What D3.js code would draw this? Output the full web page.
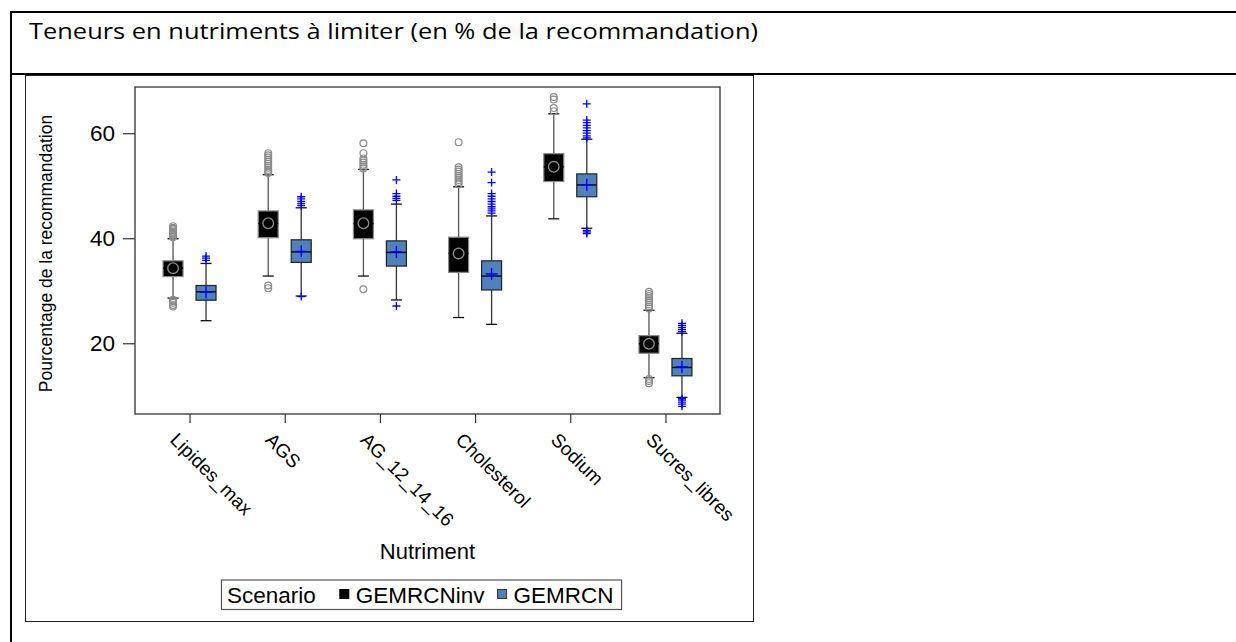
<!DOCTYPE html>
<html>
<head>
<meta charset="utf-8">
<script src="https://cdn.jsdelivr.net/npm/d3@7"></script>
<style>
  html, body { margin: 0; padding: 0; background: #fff; }
  svg { display: block; }
</style>
</head>
<body>
<svg id="chart" width="1236" height="642"></svg>
<script>
// ---------------- DATA ----------------
const title = "Teneurs en nutriments à limiter (en % de la recommandation)";
const categories = ["Lipides_max", "AGS", "AG_12_14_16", "Cholesterol", "Sodium", "Sucres_libres"];
const scenarios = ["GEMRCNinv", "GEMRCN"];
const yTicks = [20, 40, 60];
const xLabel = "Nutriment";
const yLabel = "Pourcentage de la recommandation";
const legendTitle = "Scenario";

// GEMRCNinv
const invQ1      = [32.7, 40.1, 39.9, 33.5, 50.8, 18.1];
const invMedian  = [34.3, 42.8, 42.8, 37.1, 53.6, 19.9];
const invQ3      = [35.7, 45.2, 45.4, 40.2, 56.1, 21.45];
const invLow     = [28.6, 32.8, 32.8, 24.9, 43.7, 13.45];
const invHigh    = [39.9, 52.1, 53.1, 49.8, 63.7, 26.3];
const invMean    = [34.3, 42.85, 42.85, 37.1, 53.6, 19.9];
const invOutliers = [
  [42.3, 42.0, 41.8, 41.5, 41.2, 41.0, 40.8, 40.6, 40.4, 40.2, 28.3, 28.0, 27.7, 27.3, 27.0],
  [56.2, 55.8, 55.4, 55.0, 54.6, 54.2, 53.8, 53.4, 53.0, 52.7, 52.4, 31.0, 30.5],
  [58.1, 56.2, 55.2, 54.8, 54.4, 54.0, 53.6, 53.3, 30.3],
  [58.3, 53.5, 53.1, 52.7, 52.3, 51.9, 51.5, 51.1, 50.7, 50.3],
  [66.9, 66.4, 64.8, 64.2],
  [29.8, 29.4, 29.0, 28.6, 28.2, 27.8, 27.4, 27.0, 26.6, 13.2, 12.8, 12.4]
];

// GEMRCN
const gemQ1      = [28.2, 35.4, 34.7, 30.15, 47.9, 13.8];
const gemMedian  = [29.8, 37.4, 37.3, 32.8, 50.15, 15.4];
const gemQ3      = [31.0, 39.7, 39.5, 35.7, 52.25, 17.1];
const gemLow     = [24.3, 29.0, 28.25, 23.6, 41.9, 9.7];
const gemHigh    = [35.2, 45.8, 46.5, 44.25, 58.85, 21.9];
const gemMean    = [29.7, 37.5, 37.4, 33.2, 50.2, 15.5];
const gemOutliers = [
  [36.6, 36.2, 35.8],
  [47.9, 47.5, 47.0, 46.6, 46.2, 28.9],
  [51.1, 48.5, 48.0, 47.6, 47.2, 27.1],
  [52.6, 50.6, 48.5, 48.0, 47.5, 47.0, 46.5, 46.0, 45.6, 45.2, 44.8],
  [65.6, 62.5, 62.0, 61.5, 61.0, 60.5, 60.0, 59.5, 59.1, 41.5, 41.2, 40.9],
  [23.8, 23.4, 23.0, 22.6, 22.2, 9.5, 9.2, 8.8, 8.4, 8.0]
];

// ---------------- BUILD ----------------
const series = [
  { name: scenarios[0], q1: invQ1, med: invMedian, q3: invQ3, lo: invLow, hi: invHigh, mean: invMean, out: invOutliers },
  { name: scenarios[1], q1: gemQ1, med: gemMedian, q3: gemQ3, lo: gemLow, hi: gemHigh, mean: gemMean, out: gemOutliers }
];
const style = {
  GEMRCNinv: { fill: "#000000", stroke: "#8a8a8a", medStroke: "#000000", whisker: "#555555", cap: "#111111", marker: "#8c8c8c", kind: "circle" },
  GEMRCN:    { fill: "#4F81BD", stroke: "#222222", medStroke: "#111111", whisker: "#333333", cap: "#111111", marker: "#0000ff", kind: "plus" }
};

const svg = d3.select("#chart");
const fontSans = "'Liberation Sans', Arial, sans-serif";

// Document table lines
svg.append("rect").attr("x", 0).attr("y", 0).attr("width", 1236).attr("height", 642).attr("fill", "#fff");
svg.append("line").attr("x1", 10).attr("x2", 1236).attr("y1", 12).attr("y2", 12).attr("stroke", "#000").attr("stroke-width", 2);
svg.append("line").attr("x1", 10).attr("x2", 1236).attr("y1", 74).attr("y2", 74).attr("stroke", "#000").attr("stroke-width", 2);
svg.append("line").attr("x1", 11).attr("x2", 11).attr("y1", 11).attr("y2", 642).attr("stroke", "#000").attr("stroke-width", 2);

svg.append("text")
  .attr("x", 29).attr("y", 39)
  .attr("font-family", "'Open Sans', 'Noto Sans', sans-serif")
  .attr("font-size", 22)
  .attr("textLength", 729)
  .attr("lengthAdjust", "spacingAndGlyphs")
  .attr("fill", "#000")
  .text(title);

// Image frame
svg.append("rect").attr("x", 25.5).attr("y", 75.5).attr("width", 728).attr("height", 546)
  .attr("fill", "#fff").attr("stroke", "#222").attr("stroke-width", 1);

// Plot area
const plot = { left: 135, right: 720, top: 87, bottom: 414 };

const y = d3.scaleLinear().domain([6.53, 68.8]).range([plot.bottom, plot.top]);
const x = d3.scalePoint().domain(categories).range([plot.left, plot.right]).padding(0.573);
const xSub = d3.scaleBand().domain(scenarios).range([-33, 33]);
const boxW = 20, capHalf = 5.5;

// Axes
const yAxis = svg.append("g")
  .attr("transform", `translate(${plot.left},0)`)
  .call(d3.axisLeft(y).tickValues(yTicks).tickSize(12).tickPadding(8));
yAxis.select(".domain").remove();
yAxis.selectAll(".tick line").attr("stroke", "#333").attr("stroke-width", 1.2);
yAxis.selectAll(".tick text").attr("font-family", fontSans).attr("font-size", 22.5).attr("fill", "#000");

const xAxis = svg.append("g")
  .attr("transform", `translate(0,${plot.bottom})`)
  .call(d3.axisBottom(x).tickSize(9).tickSizeOuter(0));
xAxis.select(".domain").remove();
xAxis.selectAll(".tick line").attr("stroke", "#333").attr("stroke-width", 1.2);
xAxis.selectAll(".tick text")
  .attr("font-family", fontSans).attr("font-size", 19).attr("fill", "#000")
  .attr("text-anchor", "start")
  .attr("y", null).attr("dy", null)
  .attr("transform", "translate(-21,27) rotate(45)");

// Frame
svg.append("rect")
  .attr("x", plot.left).attr("y", plot.top)
  .attr("width", plot.right - plot.left).attr("height", plot.bottom - plot.top)
  .attr("fill", "none").attr("stroke", "#404040").attr("stroke-width", 1.4);

// Boxes
series.forEach(s => {
  const st = style[s.name];
  const off = xSub(s.name) + xSub.bandwidth() / 2;
  const g = svg.append("g").attr("class", "series-" + s.name);
  categories.forEach((c, i) => {
    const cx = x(c) + off;
    // whiskers
    g.append("line").attr("x1", cx).attr("x2", cx).attr("y1", y(s.hi[i])).attr("y2", y(s.q3[i]))
      .attr("stroke", st.whisker).attr("stroke-width", 1.3);
    g.append("line").attr("x1", cx).attr("x2", cx).attr("y1", y(s.q1[i])).attr("y2", y(s.lo[i]))
      .attr("stroke", st.whisker).attr("stroke-width", 1.3);
    [s.hi[i], s.lo[i]].forEach(v => {
      g.append("line").attr("x1", cx - capHalf).attr("x2", cx + capHalf).attr("y1", y(v)).attr("y2", y(v))
        .attr("stroke", st.cap).attr("stroke-width", 1.3);
    });
    // outliers
    s.out[i].forEach(v => {
      if (st.kind === "circle") {
        g.append("circle").attr("cx", cx).attr("cy", y(v)).attr("r", 3.4)
          .attr("fill", "none").attr("stroke", st.marker).attr("stroke-width", 1.2);
      } else {
        g.append("path").attr("d", `M${cx - 4},${y(v)}H${cx + 4}M${cx},${y(v) - 4}V${y(v) + 4}`)
          .attr("stroke", st.marker).attr("stroke-width", 1.3).attr("fill", "none");
      }
    });
    // box
    g.append("rect")
      .attr("x", cx - boxW / 2).attr("y", y(s.q3[i]))
      .attr("width", boxW).attr("height", y(s.q1[i]) - y(s.q3[i]))
      .attr("fill", st.fill).attr("stroke", st.stroke).attr("stroke-width", 1.2);
    g.append("line").attr("x1", cx - boxW / 2).attr("x2", cx + boxW / 2)
      .attr("y1", y(s.med[i])).attr("y2", y(s.med[i]))
      .attr("stroke", st.medStroke).attr("stroke-width", 1.5);
    // mean
    const my = y(s.mean[i]);
    if (st.kind === "circle") {
      g.append("circle").attr("cx", cx).attr("cy", my).attr("r", 5.3)
        .attr("fill", "none").attr("stroke", st.marker).attr("stroke-width", 1.3);
    } else {
      g.append("path").attr("d", `M${cx - 6},${my}H${cx + 6}M${cx},${my - 6}V${my + 6}`)
        .attr("stroke", st.marker).attr("stroke-width", 1.4).attr("fill", "none");
    }
  });
});

// Axis labels
svg.append("text")
  .attr("x", (plot.left + plot.right) / 2).attr("y", 559)
  .attr("text-anchor", "middle")
  .attr("font-family", fontSans).attr("font-size", 22).attr("fill", "#000")
  .text(xLabel);

svg.append("text")
  .attr("transform", `translate(52,${(plot.top + plot.bottom) / 2 + 3}) rotate(-90)`)
  .attr("text-anchor", "middle")
  .attr("font-family", fontSans).attr("font-size", 17.5).attr("fill", "#000")
  .text(yLabel);

// Legend
const lg = svg.append("g");
const lgBox = lg.append("rect").attr("y", 580).attr("height", 29.5)
  .attr("fill", "#fff").attr("stroke", "#555").attr("stroke-width", 1.2);
let cursor = 227;
const lt = lg.append("text").attr("x", cursor).attr("y", 603)
  .attr("font-family", fontSans).attr("font-size", 22.5).attr("fill", "#000").text(legendTitle);
cursor += lt.node().getComputedTextLength() + 24;
scenarios.forEach(name => {
  const st = style[name];
  lg.append("rect").attr("x", cursor).attr("y", 589.5).attr("width", 9).attr("height", 9)
    .attr("fill", st.fill).attr("stroke", name === "GEMRCN" ? "#333" : "#000").attr("stroke-width", 1);
  cursor += 16;
  const t = lg.append("text").attr("x", cursor).attr("y", 603)
    .attr("font-family", fontSans).attr("font-size", 22.5).attr("fill", "#000").text(name);
  cursor += t.node().getComputedTextLength() + 13;
});
lgBox.attr("x", 221.5).attr("width", cursor - 13 + 8 - 221.5);
</script>
</body>
</html>
